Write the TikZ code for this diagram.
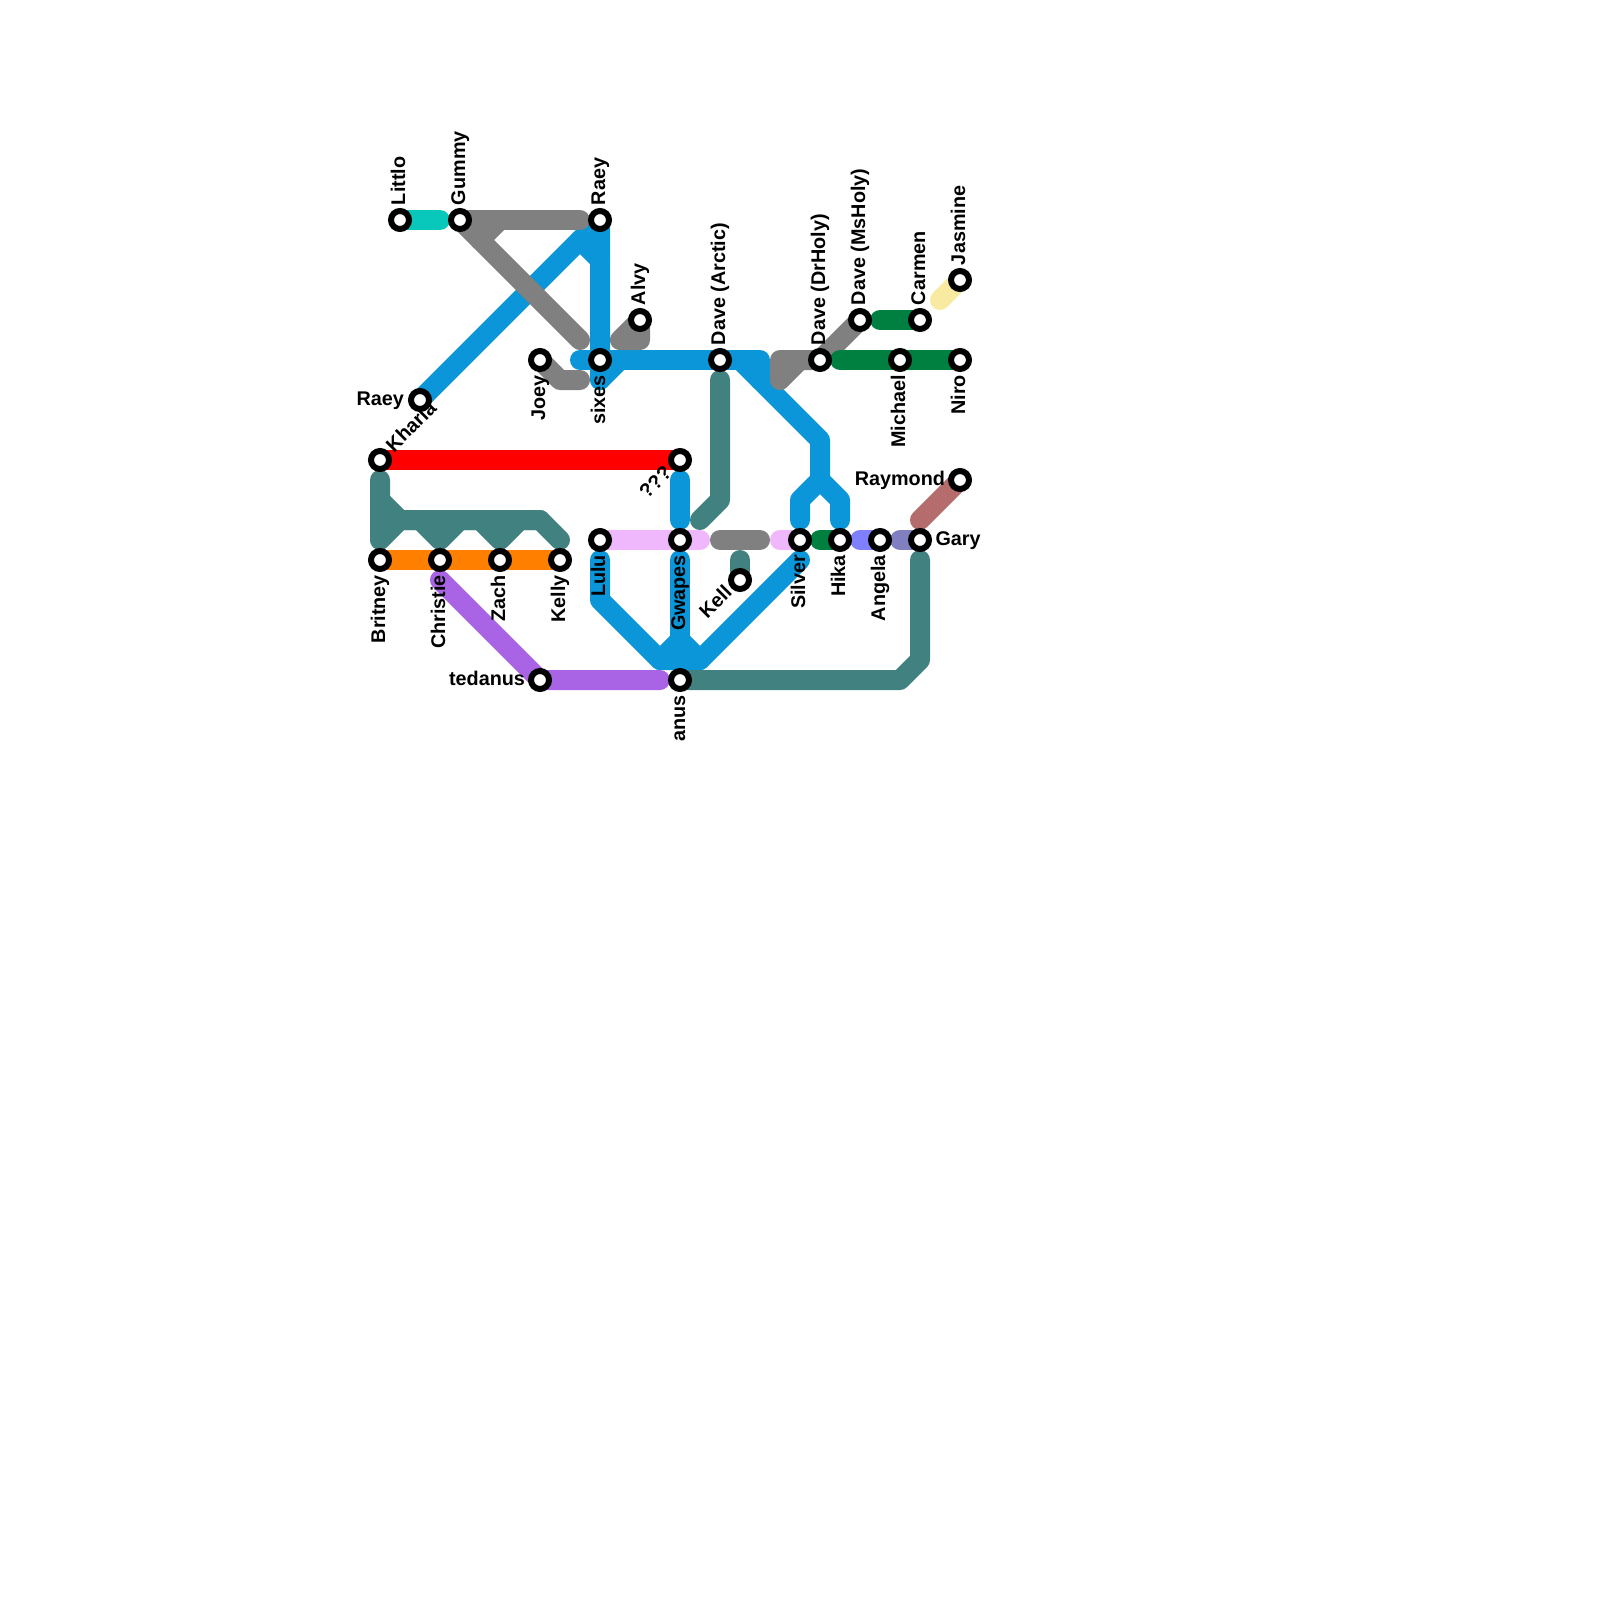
\documentclass[tikz,border=0pt]{standalone}
\usepackage{fontspec}
\setmainfont{Liberation Sans}
\definecolor{cTeal}{HTML}{418180}
\definecolor{cBlue}{HTML}{0A96D8}
\definecolor{cGrey}{HTML}{808080}
\definecolor{cCyan}{HTML}{08C8BC}
\definecolor{cGreen}{HTML}{008040}
\definecolor{cYellow}{HTML}{F8EAA0}
\definecolor{cOrange}{HTML}{FF8000}
\definecolor{cPurple}{HTML}{A864E4}
\definecolor{cPink}{HTML}{F0B8FC}
\definecolor{cBrown}{HTML}{B46C6C}
\definecolor{cPeri}{HTML}{8080FF}
\definecolor{cMuted}{HTML}{8080C0}
\pgfdeclarelayer{lines}
\pgfsetlayers{lines,main}
\tikzset{
  metro/.style={line width=20pt,line cap=round,line join=round},
  stn/.style={circle,draw=black,fill=white,line width=6pt,minimum size=18pt,inner sep=0pt,outer sep=0pt},
  lbl/.style={inner sep=0pt,outer sep=0pt,text=black,font=\fontsize{19.8}{24}\selectfont\bfseries},
  up/.style={lbl,rotate=90,anchor=base west},
  down/.style={lbl,rotate=90,anchor=base east},
  lft/.style={lbl,anchor=base east},
  rgt/.style={lbl,anchor=base west},
}
\begin{document}
\begin{tikzpicture}[x=1pt,y=-1pt]
\useasboundingbox (0,0) rectangle (1600,1600);
\foreach \a in {380,400,...,980}{\foreach \b in {220,240,...,680}{\coordinate (p\a x\b) at (\a,\b);}}
% stations
\foreach \nm/\a/\b in {littlo/400/220,gummy/460/220,raeyt/600/220,alvy/640/320,joey/540/360,sixes/600/360,arctic/720/360,drholy/820/360,msholy/860/320,carmen/920/320,jasmine/960/280,michael/900/360,niro/960/360,raeyl/420/400,kharla/380/460,qqq/680/460,raymond/960/480,lulu/600/540,gwapes/680/540,silver/800/540,hika/840/540,angela/880/540,gary/920/540,kell/740/580,britney/380/560,christie/440/560,zach/500/560,kelly/560/560,tedanus/540/680,anus/680/680}{\node[stn] (\nm) at (\a,\b) {};}
\begin{pgfonlayer}{lines}
% red, orange
\draw[metro,red] (kharla.center) -- (qqq.center);
\draw[metro,cOrange] (britney.center) -- (kelly.center);
% teal network left
\draw[metro,cTeal] (p380x480) -- (p380x540) -- (p400x520) -- (p420x520) -- (p440x540) -- (p460x520) -- (p480x520) -- (p500x540) -- (p520x520) -- (p540x520) -- (p560x540);
\draw[metro,cTeal] (p380x500) -- (p400x520) -- (p540x520);
% blue main
\draw[metro,cBlue] (raeyl.center) -- (p580x240) -- (p600x260);
\draw[metro,cBlue] (p580x240) -- (raeyt.center) -- (sixes.center) -- (p600x380) -- (p620x360);
\draw[metro,cBlue] (p580x360) -- (p760x360) -- (p760x380);
\draw[metro,cBlue] (p740x360) -- (p820x440) -- (p820x480) -- (p800x500) -- (p800x520);
\draw[metro,cBlue] (p820x480) -- (p840x500) -- (p840x520);
\draw[metro,cBlue] (p680x480) -- (p680x520);
\draw[metro,cBlue] (p600x560) -- (p600x600) -- (p660x660) -- (p700x660) -- (p800x560);
\draw[metro,cBlue] (p680x560) -- (p680x660);
\draw[metro,cBlue] (p660x660) -- (p680x640) -- (p700x660);
% grey
\draw[metro,cGrey] (gummy.center) -- (p580x220);
\draw[metro,cGrey] (gummy.center) -- (p580x340);
\draw[metro,cGrey] (p480x240) -- (p500x220);
\draw[metro,cGrey] (alvy.center) -- (p620x340) -- (p640x340) -- cycle;
\draw[metro,cGrey] (joey.center) -- (p560x380) -- (p580x380);
\draw[metro,cGrey] (msholy.center) -- (drholy.center) -- (p780x360) -- (p780x380) -- (p800x360);
\draw[metro,cGrey] (p720x540) -- (p760x540);
% others
\draw[metro,cCyan] (littlo.center) -- (p440x220);
\draw[metro,cGreen] (p880x320) -- (carmen.center);
\draw[metro,cGreen] (p840x360) -- (niro.center);
\draw[metro,cYellow] (jasmine.center) -- (p940x300);
\draw[metro,cTeal] (p720x380) -- (p720x500) -- (p700x520);
\draw[metro,cTeal] (p740x560) -- (kell.center);
\draw[metro,cPink] (lulu.center) -- (p700x540);
\draw[metro,cPink] (p780x540) -- (silver.center);
\draw[metro,cGreen] (p820x540) -- (hika.center);
\draw[metro,cPeri] (p860x540) -- (angela.center);
\draw[metro,cMuted] (p900x540) -- (gary.center);
\draw[metro,cBrown] (raymond.center) -- (p920x520);
\draw[metro,cPurple] (p440x580) -- (tedanus.center) -- (p660x680);
\draw[metro,cTeal] (anus.center) -- (p900x680) -- (p920x660) -- (p920x560);
\end{pgfonlayer}
% labels above
\node[up] (tLittlo) at (405,205) {Littlo};
\node[up] (tGummy) at (465,205) {Gummy};
\node[up] (tRaeyT) at (605,205) {Raey};
\node[up] (tAlvy) at (645,305) {Alvy};
\node[up] (tArctic) at (725,345) {Dave (Arctic)};
\node[up] (tDrHoly) at (825,345) {Dave (DrHoly)};
\node[up] (tMsHoly) at (865,305) {Dave (MsHoly)};
\node[up] (tCarmen) at (925,305) {Carmen};
\node[up] (tJasmine) at (965,265) {Jasmine};
% labels below
\node[down] (tJoey) at (545,375) {Joey};
\node[down] (tSixes) at (605,375) {sixes};
\node[down] (tMichael) at (905,375) {Michael};
\node[down] (tNiro) at (965,375) {Niro};
\node[down] (tBritney) at (385,575) {Britney};
\node[down] (tChristie) at (445,575) {Christie};
\node[down] (tZach) at (505,575) {Zach};
\node[down] (tKelly) at (565,575) {Kelly};
\node[down] (tLulu) at (605,555) {Lulu};
\node[down] (tGwapes) at (685,555) {Gwapes};
\node[down] (tSilver) at (805,555) {Silver};
\node[down] (tHika) at (845,555) {Hika};
\node[down] (tAngela) at (885,555) {Angela};
\node[down] (tAnus) at (685,695) {anus};
% side labels
\node[lft] (tRaeyL) at (404,405) {Raey};
\node[lft] (tTedanus) at (525,685) {tedanus};
\node[lft] (tRaymond) at (945,485) {Raymond};
\node[rgt] (tGary) at (935.5,545) {Gary};
% diagonal labels
\node[lbl,rotate=45,anchor=base west] (tKharla) at (394,453) {Kharla};
\node[lbl,rotate=45,anchor=base east] (tKell) at (733,594) {Kell};
\node[lbl,rotate=45,anchor=base east] (tQqq) at (673,474) {???};
\end{tikzpicture}
\end{document}
